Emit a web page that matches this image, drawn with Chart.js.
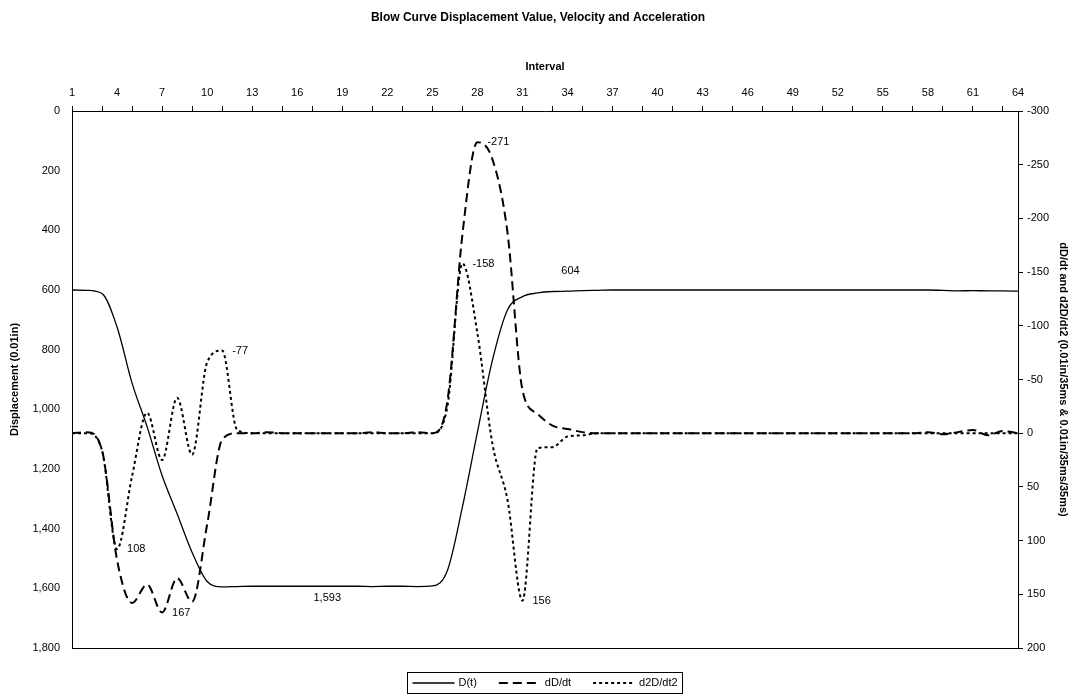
<!DOCTYPE html>
<html lang="en">
<head>
    <meta charset="UTF-8">
    <title>Blow Curve Displacement Value, Velocity and Acceleration</title>
    <script src="https://cdn.jsdelivr.net/npm/chart.js"></script>
    <style>
        html, body {
            margin: 0;
            padding: 0;
            background: #ffffff;
        }
    </style>
</head>
<body>
    <canvas id="blowChart" width="1076" height="696"></canvas>

    <script>
        const intervals = ["1", "2", "3", "4", "5", "6", "7", "8", "9", "10", "11", "12", "13", "14", "15", "16",
            "17", "18", "19", "20", "21", "22", "23", "24", "25", "26", "27", "28", "29", "30", "31", "32",
            "33", "34", "35", "36", "37", "38", "39", "40", "41", "42", "43", "44", "45", "46", "47", "48",
            "49", "50", "51", "52", "53", "54", "55", "56", "57", "58", "59", "60", "61", "62", "63", "64"];

        // D(t), 0.01in (left axis, reversed)
        const displacement = [600, 601, 612, 724, 912, 1058, 1222, 1350, 1480, 1577, 1595, 1594, 1593, 1593, 1593, 1593,
            1593, 1593, 1593, 1593, 1594, 1593, 1593, 1594, 1592, 1540, 1327, 1076, 835, 667, 622, 610,
            605, 604, 602, 601, 600, 600, 600, 600, 600, 600, 600, 600, 600, 600, 600, 600,
            600, 600, 600, 600, 600, 600, 600, 600, 600, 600, 601, 603, 602, 603, 603, 604];

        // dD/dt (right axis, reversed)
        const velocity = [0, -1, 16, 118, 158, 141, 167, 135, 157, 85, 6, 0, 0, -1, 0, 0,
            0, 0, 0, 0, -1, 0, 0, -1, 0, -30, -185, -271, -255, -187, -40, -18,
            -7, -4, -1, 0, 0, 0, 0, 0, 0, 0, 0, 0, 0, 0, 0, 0,
            0, 0, 0, 0, 0, 0, 0, 0, 0, -1, 1, -1, -3, 2, -2, 0];

        // d2D/dt2 (right axis, reversed)
        const acceleration = [0, 0, 16, 108, 40, -19, 25, -33, 20, -66, -77, -3, 0, 0, 0, 0,
            0, 0, 0, 0, 0, 0, 0, 0, 0, -25, -158, -93, 10, 62, 156, 14,
            13, 3, 2, 0, 0, 0, 0, 0, 0, 0, 0, 0, 0, 0, 0, 0,
            0, 0, 0, 0, 0, 0, 0, 0, 0, 0, 0, 0, 0, 0, 0, 0];

        const leftTicks = [0, 200, 400, 600, 800, 1000, 1200, 1400, 1600, 1800];
        const rightTicks = [-300, -250, -200, -150, -100, -50, 0, 50, 100, 150, 200];

        // which points carry a value label: [dataset, index, placement]
        const valueLabels = [
            [0, 17, 'below'], [0, 33, 'above'],
            [1, 6, 'right'], [1, 27, 'right'],
            [2, 3, 'right'], [2, 10, 'right'], [2, 26, 'right'], [2, 30, 'right']
        ];

        const FONT = "'Liberation Sans', Arial, sans-serif";
        Chart.defaults.font.family = FONT;
        Chart.defaults.color = '#000';

        const extras = {
            id: 'extras',
            afterDatasetsDraw(chart) {
                const c = chart.ctx;
                const area = chart.chartArea;
                c.save();
                // bottom frame line
                c.strokeStyle = '#000';
                c.lineWidth = 1;
                c.beginPath();
                c.moveTo(area.left, Math.round(area.bottom) + 0.5);
                c.lineTo(area.right, Math.round(area.bottom) + 0.5);
                c.stroke();

                // value labels
                c.font = '11px ' + FONT;
                c.fillStyle = '#000';
                valueLabels.forEach(([ds, idx, place]) => {
                    const pt = chart.getDatasetMeta(ds).data[idx];
                    const val = chart.data.datasets[ds].data[idx];
                    const txt = val.toLocaleString('en-US');
                    c.textBaseline = 'middle';
                    if (place === 'right') {
                        c.textAlign = 'left';
                        c.fillText(txt, pt.x + 10, pt.y);
                    } else if (place === 'below') {
                        c.textAlign = 'center';
                        c.fillText(txt, pt.x, pt.y + 12);
                    } else {
                        c.textAlign = 'center';
                        c.fillText(txt, pt.x + 3, pt.y - 20);
                    }
                });

                // legend with box
                const lineLen = 42, gapText = 4, gapItem = 22, pad = 5;
                const items = chart.data.datasets.map(d => ({ d, w: c.measureText(d.label).width }));
                let total = pad * 2;
                items.forEach((it, i) => {
                    total += lineLen + gapText + it.w + (i < items.length - 1 ? gapItem : 0);
                });
                const cx = (area.left + area.right) / 2;
                let x = Math.round(cx - total / 2) + 0.5;
                const top = 672.5, h = 21;
                c.lineWidth = 1;
                c.setLineDash([]);
                c.strokeRect(x, top, Math.round(total), h);
                const midY = top + h / 2;
                x += pad;
                items.forEach(it => {
                    c.save();
                    c.strokeStyle = it.d.borderColor;
                    c.lineWidth = it.d.borderWidth;
                    c.setLineDash(it.d.borderDash || []);
                    c.beginPath();
                    c.moveTo(x, midY);
                    c.lineTo(x + lineLen, midY);
                    c.stroke();
                    c.restore();
                    c.textAlign = 'left';
                    c.textBaseline = 'middle';
                    c.fillText(it.d.label, x + lineLen + gapText, midY);
                    x += lineLen + gapText + it.w + gapItem;
                });
                c.restore();
            }
        };

        const ctx = document.getElementById('blowChart').getContext('2d');
        const blowChart = new Chart(ctx, {
            type: 'line',
            data: {
                labels: intervals,
                datasets: [{
                    label: 'D(t)',
                    data: displacement,
                    yAxisID: 'yD',
                    borderColor: '#000',
                    borderWidth: 1.3,
                    pointRadius: 0,
                    cubicInterpolationMode: 'monotone',
                    fill: false
                }, {
                    label: 'dD/dt',
                    data: velocity,
                    yAxisID: 'yR',
                    borderColor: '#000',
                    borderWidth: 2,
                    borderDash: [9, 5],
                    pointRadius: 0,
                    cubicInterpolationMode: 'monotone',
                    fill: false
                }, {
                    label: 'd2D/dt2',
                    data: acceleration,
                    yAxisID: 'yR',
                    borderColor: '#000',
                    borderWidth: 2,
                    borderDash: [3, 3],
                    pointRadius: 0,
                    cubicInterpolationMode: 'monotone',
                    fill: false
                }]
            },
            options: {
                responsive: false,
                animation: false,
                layout: { padding: { left: 0, right: 0, top: 0, bottom: 48 } },
                plugins: {
                    legend: { display: false },
                    tooltip: { enabled: false },
                    title: {
                        display: true,
                        text: 'Blow Curve Displacement Value, Velocity and Acceleration',
                        font: { size: 12, weight: 'bold' },
                        color: '#000',
                        padding: { top: 10, bottom: 20 }
                    }
                },
                scales: {
                    x: {
                        type: 'category',
                        position: 'top',
                        offset: false,
                        border: { display: true, color: '#000', width: 1 },
                        grid: {
                            drawOnChartArea: false,
                            drawTicks: true,
                            tickLength: 5,
                            color: (c) => (c.index % 2 === 0 ? '#000' : 'rgba(0,0,0,0)')
                        },
                        ticks: {
                            autoSkip: false,
                            maxRotation: 0,
                            padding: 6,
                            font: { size: 11 },
                            color: '#000',
                            callback: function (val, idx) {
                                return idx % 3 === 0 ? this.getLabelForValue(val) : '';
                            }
                        },
                        title: {
                            display: true,
                            text: 'Interval',
                            font: { size: 11, weight: 'bold' },
                            color: '#000',
                            padding: { top: 16, bottom: 0 }
                        },
                        afterFit: (s) => { s.height = 66.6; }
                    },
                    yD: {
                        position: 'left',
                        reverse: true,
                        min: 0,
                        max: 1800,
                        afterBuildTicks: (s) => { s.ticks = leftTicks.map(v => ({ value: v })); },
                        border: { display: true, color: '#000', width: 1 },
                        grid: { drawOnChartArea: false, drawTicks: false },
                        ticks: {
                            padding: 12,
                            font: { size: 11 },
                            color: '#000',
                            callback: (v) => v.toLocaleString('en-US')
                        },
                        title: {
                            display: true,
                            text: 'Displacement (0.01in)',
                            font: { size: 11, weight: 'bold' },
                            color: '#000',
                            padding: { top: 8, bottom: 0 }
                        },
                        afterFit: (s) => { s.width = 72; }
                    },
                    yR: {
                        position: 'right',
                        reverse: true,
                        min: -300,
                        max: 200,
                        afterBuildTicks: (s) => { s.ticks = rightTicks.map(v => ({ value: v })); },
                        border: { display: true, color: '#000', width: 1 },
                        grid: { drawOnChartArea: false, drawTicks: true, tickLength: 5, color: '#000' },
                        ticks: {
                            padding: 4,
                            font: { size: 11 },
                            color: '#000',
                            callback: (v) => v.toLocaleString('en-US')
                        },
                        title: {
                            display: true,
                            text: 'dD/dt and d2D/dt2 (0.01in/35ms & 0.01in/35ms/35ms)',
                            font: { size: 11, weight: 'bold' },
                            color: '#000',
                            padding: { top: 6, bottom: 0 }
                        },
                        afterFit: (s) => { s.width = 58; }
                    }
                }
            },
            plugins: [extras]
        });
    </script>
</body>
</html>
